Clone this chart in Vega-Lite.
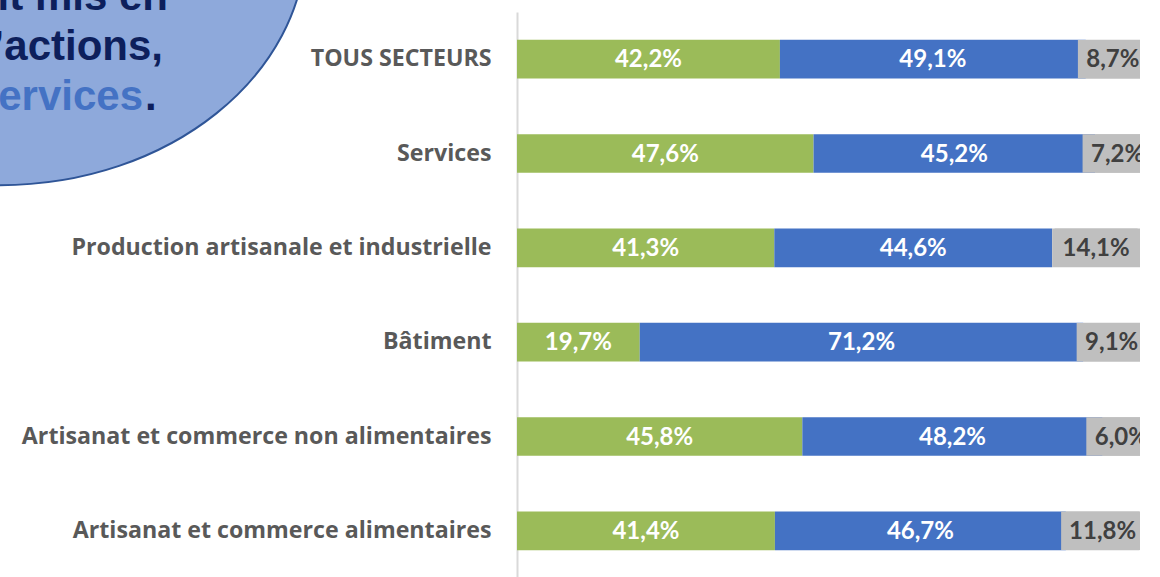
{
  "$schema": "https://vega.github.io/schema/vega-lite/v6.json",
  "autosize": {"type": "none"},
  "padding": {"left": 517, "top": 12, "right": 0, "bottom": 0},
  "width": 623,
  "height": 566,
  "background": "#FFFFFF",
  "config": {"view": {"stroke": null}, "font": "Lato"},
  "datasets": {
    "barres": [
      {"secteur": "TOUS SECTEURS", "reponse": "Oui", "ordre": 1, "valeur": 42.2, "label": "42,2%"},
      {"secteur": "TOUS SECTEURS", "reponse": "Non", "ordre": 2, "valeur": 49.1, "label": "49,1%"},
      {"secteur": "TOUS SECTEURS", "reponse": "Ne sait pas", "ordre": 3, "valeur": 8.7, "label": "8,7%"},
      {"secteur": "Services", "reponse": "Oui", "ordre": 1, "valeur": 47.6, "label": "47,6%"},
      {"secteur": "Services", "reponse": "Non", "ordre": 2, "valeur": 45.2, "label": "45,2%"},
      {"secteur": "Services", "reponse": "Ne sait pas", "ordre": 3, "valeur": 7.2, "label": "7,2%"},
      {"secteur": "Production artisanale et industrielle", "reponse": "Oui", "ordre": 1, "valeur": 41.3, "label": "41,3%"},
      {"secteur": "Production artisanale et industrielle", "reponse": "Non", "ordre": 2, "valeur": 44.6, "label": "44,6%"},
      {"secteur": "Production artisanale et industrielle", "reponse": "Ne sait pas", "ordre": 3, "valeur": 14.1, "label": "14,1%"},
      {"secteur": "Bâtiment", "reponse": "Oui", "ordre": 1, "valeur": 19.7, "label": "19,7%"},
      {"secteur": "Bâtiment", "reponse": "Non", "ordre": 2, "valeur": 71.2, "label": "71,2%"},
      {"secteur": "Bâtiment", "reponse": "Ne sait pas", "ordre": 3, "valeur": 9.1, "label": "9,1%"},
      {"secteur": "Artisanat et commerce non alimentaires\u2005", "reponse": "Oui", "ordre": 1, "valeur": 45.8, "label": "45,8%"},
      {"secteur": "Artisanat et commerce non alimentaires\u2005", "reponse": "Non", "ordre": 2, "valeur": 48.2, "label": "48,2%"},
      {"secteur": "Artisanat et commerce non alimentaires\u2005", "reponse": "Ne sait pas", "ordre": 3, "valeur": 6.0, "label": "6,0%"},
      {"secteur": "Artisanat et commerce alimentaires", "reponse": "Oui", "ordre": 1, "valeur": 41.4, "label": "41,4%"},
      {"secteur": "Artisanat et commerce alimentaires", "reponse": "Non", "ordre": 2, "valeur": 46.7, "label": "46,7%"},
      {"secteur": "Artisanat et commerce alimentaires", "reponse": "Ne sait pas", "ordre": 3, "valeur": 11.8, "label": "11,8%"}
    ]
  },
  "data": {"name": "barres"},
  "encoding": {
    "y": {
      "field": "secteur",
      "type": "nominal",
      "scale": {
        "domain": ["TOUS SECTEURS", "Services", "Production artisanale et industrielle", "Bâtiment", "Artisanat et commerce non alimentaires\u2005", "Artisanat et commerce alimentaires"],
        "paddingInner": 0.59,
        "paddingOuter": 0.295
      },
      "axis": {
        "title": null,
        "domain": true,
        "domainColor": "#D9D9D9",
        "domainWidth": 2,
        "ticks": false,
        "labelFont": "Open Sans",
        "labelFontSize": 23.2,
        "labelFontWeight": "bold",
        "labelColor": "#595959",
        "labelPadding": 26,
        "labelLimit": 600
      }
    }
  },
  "layer": [
    {
      "transform": [{"filter": "datum.secteur === 'TOUS SECTEURS' && datum.ordre === 1"}],
      "mark": {
        "type": "point",
        "shape": "M -2.11 -1.19 C -2.11 0.163 -3.48 1.26 -5.17 1.26 C -6.86 1.26 -8.23 0.163 -8.23 -1.19 C -8.23 -2.543 -6.86 -3.64 -5.17 -3.64 C -3.48 -3.64 -2.11 -2.543 -2.11 -1.19 Z",
        "size": 40000,
        "filled": true,
        "fill": "#8EA9DB",
        "stroke": "#2F5597",
        "strokeWidth": 2,
        "opacity": 1
      },
      "encoding": {"x": {"datum": 0, "type": "quantitative", "axis": null}}
    },
    {
      "transform": [{"filter": "datum.secteur === 'TOUS SECTEURS' && datum.ordre === 1"}],
      "mark": {"type": "text", "text": "it mis en", "align": "right", "baseline": "alphabetic", "dx": -349, "dy": -49, "font": "Liberation Sans", "fontWeight": "bold", "fontSize": 42, "fill": "#0D1F5C"},
      "encoding": {"x": {"datum": 0, "type": "quantitative", "axis": null}}
    },
    {
      "transform": [{"filter": "datum.secteur === 'TOUS SECTEURS' && datum.ordre === 1"}],
      "mark": {"type": "text", "text": "’actions,", "align": "right", "baseline": "alphabetic", "dx": -354, "dy": 1, "font": "Liberation Sans", "fontWeight": "bold", "fontSize": 42, "fill": "#0D1F5C"},
      "encoding": {"x": {"datum": 0, "type": "quantitative", "axis": null}}
    },
    {
      "transform": [{"filter": "datum.secteur === 'TOUS SECTEURS' && datum.ordre === 1"}],
      "mark": {"type": "text", "text": "ervices", "align": "right", "baseline": "alphabetic", "dx": -374, "dy": 51, "font": "Liberation Sans", "fontWeight": "bold", "fontSize": 42, "fill": "#4472C4"},
      "encoding": {"x": {"datum": 0, "type": "quantitative", "axis": null}}
    },
    {
      "transform": [{"filter": "datum.secteur === 'TOUS SECTEURS' && datum.ordre === 1"}],
      "mark": {"type": "text", "text": ".", "align": "left", "baseline": "alphabetic", "dx": -372, "dy": 51, "font": "Liberation Sans", "fontWeight": "bold", "fontSize": 42, "fill": "#0D1F5C"},
      "encoding": {"x": {"datum": 0, "type": "quantitative", "axis": null}}
    },
    {
      "mark": {"type": "bar"},
      "encoding": {
        "x": {"field": "valeur", "type": "quantitative", "stack": "zero", "scale": {"domain": [0, 100], "nice": false}, "axis": null},
        "color": {"field": "reponse", "type": "nominal", "scale": {"domain": ["Oui", "Non", "Ne sait pas"], "range": ["#9BBB59", "#4472C4", "#BFBFBF"]}, "legend": null},
        "order": {"field": "ordre", "type": "quantitative"}
      }
    },
    {
      "mark": {"type": "point", "shape": "M -0.7 -0.385 L 0.7 -0.385 L 0.7 0.385 L -0.7 0.385 Z", "size": 10000, "filled": true, "strokeWidth": 0},
      "encoding": {
        "x": {"field": "valeur", "type": "quantitative", "stack": "zero", "bandPosition": 0.5, "axis": null},
        "color": {"field": "reponse", "type": "nominal", "legend": null},
        "order": {"field": "ordre", "type": "quantitative"},
        "opacity": {"condition": {"test": "datum.reponse === 'Ne sait pas' && length(datum.label) === 4", "value": 1}, "value": 0}
      }
    },
    {
      "mark": {"type": "point", "shape": "M -0.83 -0.385 L 0.83 -0.385 L 0.83 0.385 L -0.83 0.385 Z", "size": 10000, "filled": true, "strokeWidth": 0},
      "encoding": {
        "x": {"field": "valeur", "type": "quantitative", "stack": "zero", "bandPosition": 0.5, "axis": null},
        "color": {"field": "reponse", "type": "nominal", "legend": null},
        "order": {"field": "ordre", "type": "quantitative"},
        "opacity": {"condition": {"test": "datum.reponse === 'Ne sait pas' && length(datum.label) === 5", "value": 1}, "value": 0}
      }
    },
    {
      "mark": {"type": "text", "font": "Lato", "fontWeight": "bold", "fontSize": 24, "baseline": "middle", "dy": 1},
      "encoding": {
        "x": {"field": "valeur", "type": "quantitative", "stack": "zero", "bandPosition": 0.5, "axis": null},
        "detail": {"field": "reponse", "type": "nominal"},
        "order": {"field": "ordre", "type": "quantitative"},
        "text": {"field": "label", "type": "nominal"},
        "color": {"condition": {"test": "datum.reponse === 'Ne sait pas'", "value": "#404040"}, "value": "#FFFFFF"}
      }
    }
  ]
}
